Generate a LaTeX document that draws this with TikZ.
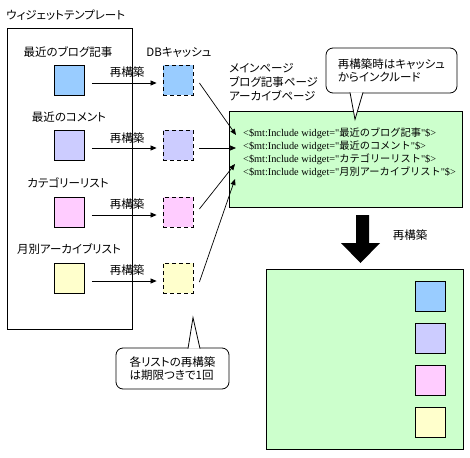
\documentclass[tikz,border=0pt]{standalone}
\usepackage{fontspec}
\newfontfamily\jp[RawFeature=+palt]{Noto Sans CJK JP}
\newfontfamily\jpm{Noto Sans CJK JP}
\newfontfamily\ser{Liberation Serif}
\usetikzlibrary{arrows.meta}
\definecolor{cblue}{HTML}{99CCFF}
\definecolor{cpurple}{HTML}{CCCCFF}
\definecolor{cpink}{HTML}{FFCCFF}
\definecolor{cyellow}{HTML}{FFFFCC}
\definecolor{cgreen}{HTML}{CCFFCC}
\newcommand\mtinc[1]{{\ser <\$mt:Include widget="}{\jpm\fontsize{10.2}{13}\selectfont #1}{\ser "\$>}}
\begin{document}
\begin{tikzpicture}[x=1pt,y=-1pt,
  every node/.style={inner sep=0pt, font=\jp\fontsize{11.5}{13}\selectfont},
  sq/.style={draw, line width=0.8pt, minimum width=30pt, minimum height=30pt},
  cache/.style={sq, dash pattern=on 4pt off 3pt},
  arr/.style={line width=0.7pt, -{Triangle[length=6pt,width=5pt]}},
  box/.style={draw, line width=0.9pt},
  callout/.style={draw, fill=white, rounded corners=7pt, line width=0.8pt, align=left},
  ptr/.style={fill=white, draw, line width=0.8pt},
]
\useasboundingbox (0,0) rectangle (470,457);

% template box
\node[anchor=west] (title) at (6,15) {ウィジェットテンプレート};
\node[box, minimum width=125pt, minimum height=301pt] (tmpl) at (69.5,178.5) {};

\node (l1) at (68,52) {最近のブログ記事};
\node (l2) at (69,117) {最近のコメント};
\node (l3) at (68,183) {カテゴリーリスト};
\node (l4) at (69,249) {月別アーカイブリスト};

\node[sq, fill=cblue] (s1) at (69.5,80) {};
\node[sq, fill=cpurple] (s2) at (69.5,145) {};
\node[sq, fill=cpink] (s3) at (69.5,212) {};
\node[sq, fill=cyellow] (s4) at (69.5,278) {};

% cache
\node (dbl) at (179,52) {DBキャッシュ};
\node[cache, fill=cblue] (c1) at (178,80) {};
\node[cache, fill=cpurple] (c2) at (178,145) {};
\node[cache, fill=cpink] (c3) at (178,212) {};
\node[cache, fill=cyellow] (c4) at (178,278) {};

\foreach \i in {1,2,3,4}{
  \draw[arr] ([xshift=7pt,yshift=-3pt]s\i.east) -- ([xshift=-6pt,yshift=-3pt]c\i.west);
}
\node (r1l) at (127,72) {再構築};
\node (r2l) at (127,138) {再構築};
\node (r3l) at (127,204) {再構築};
\node (r4l) at (127,270) {再構築};

% pages
\node[anchor=north west, align=left, font=\jp\fontsize{11.5}{14}\selectfont] (pages) at (229,63) {メインページ\\ブログ記事ページ\\アーカイブページ};

\node[box, fill=cgreen, minimum width=233pt, minimum height=96pt] (g) at (345.5,159) {};
\node[anchor=north west, align=left, font=\fontsize{10.3}{13}\selectfont] (code) at (243,128)
  {\mtinc{最近のブログ記事}\\\mtinc{最近のコメント}\\\mtinc{カテゴリーリスト}\\\mtinc{月別アーカイブリスト}};

\coordinate (g1) at (236,135);
\coordinate (g2) at (236,148);
\coordinate (g3) at (235,164);
\coordinate (g4) at (235,179);
\draw[arr] ([xshift=6pt,yshift=-3pt]c1.east) -- (g1);
\draw[arr] ([xshift=6pt,yshift=-3pt]c2.east) -- (g2);
\draw[arr] ([xshift=6pt,yshift=3pt]c3.east) -- (g3);
\draw[arr] ([xshift=6pt,yshift=-4pt]c4.east) -- (g4);

% callout 1
\node[callout, minimum width=131pt, minimum height=45pt] (co1) at (391.5,70.5) {再構築時はキャッシュ\\からインクルード};
\filldraw[ptr] ([xshift=-41.5pt,yshift=1pt]co1.south) -- ([xshift=-36.5pt,yshift=-26pt]co1.south) -- ([xshift=-28.5pt,yshift=1pt]co1.south);

% big arrow
\fill (356,215) -- (369,215) -- (369,243) -- (380,243) -- (360.5,263) -- (341,243) -- (356,243) -- cycle;
\node (r5l) at (410,235) {再構築};

% result box
\node[box, fill=cgreen, minimum width=197pt, minimum height=180pt] (b) at (364.5,359) {};
\node[sq, fill=cblue] (q1) at (430.5,296) {};
\node[sq, fill=cpurple] (q2) at (430.5,338) {};
\node[sq, fill=cpink] (q3) at (430.5,380) {};
\node[sq, fill=cyellow] (q4) at (430.5,422) {};

% callout 2
\node[callout, minimum width=113pt, minimum height=41pt] (co2) at (172.5,368.5) {各リストの再構築\\は期限つきで1回};
\filldraw[ptr] ([xshift=15.5pt,yshift=-1pt]co2.north) -- ([xshift=20.5pt,yshift=30pt]co2.north) -- ([xshift=27.5pt,yshift=-1pt]co2.north);
\end{tikzpicture}
\end{document}
